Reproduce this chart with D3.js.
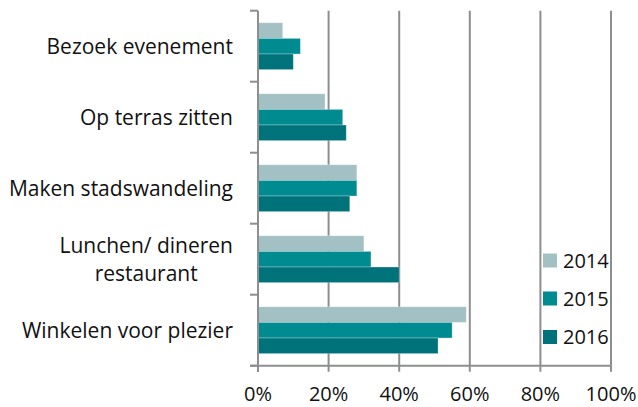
<!DOCTYPE html>
<html><head><meta charset="utf-8">
<script src="https://cdn.jsdelivr.net/npm/d3@7"></script>
<style>body{margin:0;background:#fff}svg{display:block}</style>
</head><body>
<svg id="c" width="638" height="407"></svg>
<script>
const categories = ["Bezoek evenement","Op terras zitten","Maken stadswandeling","Lunchen/ dineren\nrestaurant","Winkelen voor plezier"];
const years = ["2014","2015","2016"];
const values2014 = [7,19,28,30,59];
const values2015 = [12,24,28,32,55];
const values2016 = [10,25,26,40,51];
const xTicks = [0,20,40,60,80,100];
const colors = ["#A3C1C4","#008B91","#00727A"];

(function(){
const series = [values2014, values2015, values2016];
const svg = d3.select("#c");
const font = "'Open Sans', sans-serif";
const catSize = 21, numSize = 20;
const pL = 258, pR = 611, pT = 10.7, pB = 365.7;
const x = d3.scaleLinear().domain([0,100]).range([pL,pR]);
const y = d3.scaleBand().domain(categories).range([pT,pB]).paddingInner(0.34).paddingOuter(0.17);
const yi = d3.scaleBand().domain(years).range([0,y.bandwidth()]);
const grey = "#8E8E8E";

svg.append("g").selectAll("line").data(xTicks.filter(d=>d>0)).join("line")
  .attr("x1",d=>x(d)).attr("x2",d=>x(d)).attr("y1",pT).attr("y2",pB)
  .attr("stroke",grey).attr("stroke-width",2);

const g = svg.append("g");
years.forEach((yr,si)=>{
  g.selectAll(null).data(categories).join("rect")
    .attr("x",x(0)).attr("y",c=>y(c)+yi(yr))
    .attr("width",(c,i)=>x(series[si][i])-x(0)).attr("height",yi.bandwidth())
    .attr("fill",colors[si]).attr("stroke","rgba(255,255,255,0.35)").attr("stroke-width",0.8);
});

const yEdges = categories.map(c=>y(c)-y.step()*y.paddingOuter()).concat([pB]);
svg.append("line").attr("x1",pL).attr("x2",pL).attr("y1",pT).attr("y2",pB+6).attr("stroke",grey).attr("stroke-width",2);
svg.append("g").selectAll("line").data(yEdges).join("line")
  .attr("x1",pL-8).attr("x2",pL).attr("y1",d=>d).attr("y2",d=>d).attr("stroke",grey).attr("stroke-width",2);
svg.append("line").attr("x1",pL-8).attr("x2",pR).attr("y1",pB).attr("y2",pB).attr("stroke",grey).attr("stroke-width",2);
svg.append("g").selectAll("line").data(xTicks).join("line")
  .attr("x1",d=>x(d)).attr("x2",d=>x(d)).attr("y1",pB).attr("y2",pB+6).attr("stroke",grey).attr("stroke-width",2);
svg.append("g").selectAll("text").data(xTicks).join("text")
  .attr("x",d=>x(d)).attr("y",400.5).attr("text-anchor","middle")
  .attr("font-family",font).attr("font-size",numSize).attr("fill","#111")
  .text(d=>d+"%");

categories.forEach(c=>{
  const lines = c.split("\n");
  const cy = y(c)+y.bandwidth()/2;
  const lh = 28;
  const t = svg.append("text").attr("font-family",font).attr("font-size",catSize).attr("fill","#111");
  if(lines.length===1){
    t.attr("x",233).attr("y",cy+7.5).attr("text-anchor","end").text(c);
  } else {
    const tmp = svg.append("text").attr("font-family",font).attr("font-size",catSize).text(lines[0]);
    const w = tmp.node().getComputedTextLength(); tmp.remove();
    const cx = 233 - w/2;
    lines.forEach((ln,k)=>{
      t.append("tspan").attr("x",cx).attr("y",cy+7.5+(k-(lines.length-1)/2)*lh).attr("text-anchor","middle").text(ln);
    });
  }
});

const ly = [260.5,298.5,337];
years.forEach((yr,i)=>{
  svg.append("rect").attr("x",543).attr("y",ly[i]-7).attr("width",14).attr("height",14).attr("fill",colors[i]);
  svg.append("text").attr("x",563).attr("y",ly[i]+7).attr("font-family",font).attr("font-size",numSize).attr("fill","#111").text(yr);
});
})();
</script>
</body></html>
